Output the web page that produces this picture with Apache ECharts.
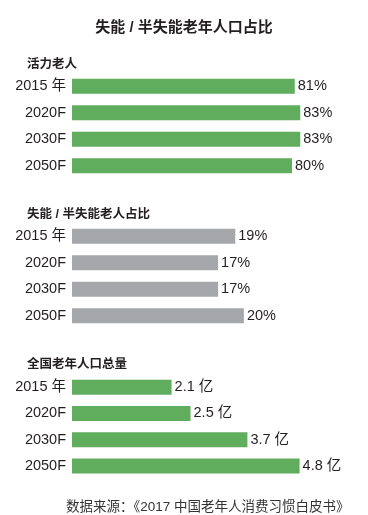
<!DOCTYPE html>
<html>
<head>
<meta charset="utf-8">
<script src="https://cdn.jsdelivr.net/npm/echarts@6/dist/echarts.min.js"></script>
<style>
html,body{margin:0;padding:0;background:#fff;}
#main{width:368px;height:515px;}
</style>
</head>
<body>
<div id="main"></div>
<script>
const categories = ['2015 年', '2020F', '2030F', '2050F'];
const activeShare = [81, 83, 83, 80];
const disabledShare = [19, 17, 17, 20];
const elderlyTotal = [2.1, 2.5, 3.7, 4.8];

const chartTitle = '失能 / 半失能老年人口占比';
const sectionTitles = ['活力老人', '失能 / 半失能老人占比', '全国老年人口总量'];
const sourceText = '数据来源：《2017 中国老年人消费习惯白皮书》';

const FONT = "'Liberation Sans', Arial, 'Noto Sans CJK SC', sans-serif";
const TEXT = '#231f20';
const GREEN = '#60ad5e';
const GRAY = '#a6a7aa';

const chart = echarts.init(document.getElementById('main'));

const grids = [
  {left: 72, width: 275, top: 73, height: 106},
  {left: 72, width: 275, top: 223, height: 106},
  {left: 72, width: 275, top: 374, height: 105}
];
const maxes = [100, 32, 5.8];
const seriesData = [activeShare, disabledShare, elderlyTotal];
const colors = [GREEN, GRAY, GREEN];
const fmts = [p => p.value + '%', p => p.value + '%', p => p.value + ' 亿'];

const option = {
  animation: false,
  backgroundColor: '#fff',
  textStyle: {fontFamily: FONT},
  title: [
    {text: chartTitle, left: 'center', top: 15, textStyle: {fontFamily: FONT, fontSize: 15, fontWeight: 'bold', color: TEXT}},
    {text: sectionTitles[0], left: 22, top: 53, textStyle: {fontFamily: FONT, fontSize: 12.5, fontWeight: 'bold', color: TEXT}},
    {text: sectionTitles[1], left: 22, top: 203, textStyle: {fontFamily: FONT, fontSize: 12.5, fontWeight: 'bold', color: TEXT}},
    {text: sectionTitles[2], left: 22, top: 353, textStyle: {fontFamily: FONT, fontSize: 12.5, fontWeight: 'bold', color: TEXT}},
    {text: sourceText, left: 61, top: 496, textStyle: {fontFamily: FONT, fontSize: 13.5, fontWeight: 'normal', color: '#333'}}
  ],
  grid: grids,
  xAxis: grids.map((g, i) => ({
    type: 'value', gridIndex: i, min: 0, max: maxes[i],
    show: false, splitLine: {show: false}
  })),
  yAxis: grids.map((g, i) => ({
    type: 'category', gridIndex: i, data: categories, inverse: true,
    axisLine: {show: false}, axisTick: {show: false},
    axisLabel: {fontFamily: FONT, fontSize: 14.5, color: TEXT, margin: 6}
  })),
  series: seriesData.map((d, i) => ({
    type: 'bar', xAxisIndex: i, yAxisIndex: i, data: d,
    barWidth: 15,
    itemStyle: {color: colors[i]},
    label: {show: true, position: 'right', distance: 3, formatter: fmts[i],
      fontFamily: FONT, fontSize: 14.5, color: TEXT}
  }))
};
chart.setOption(option);
</script>
</body>
</html>
